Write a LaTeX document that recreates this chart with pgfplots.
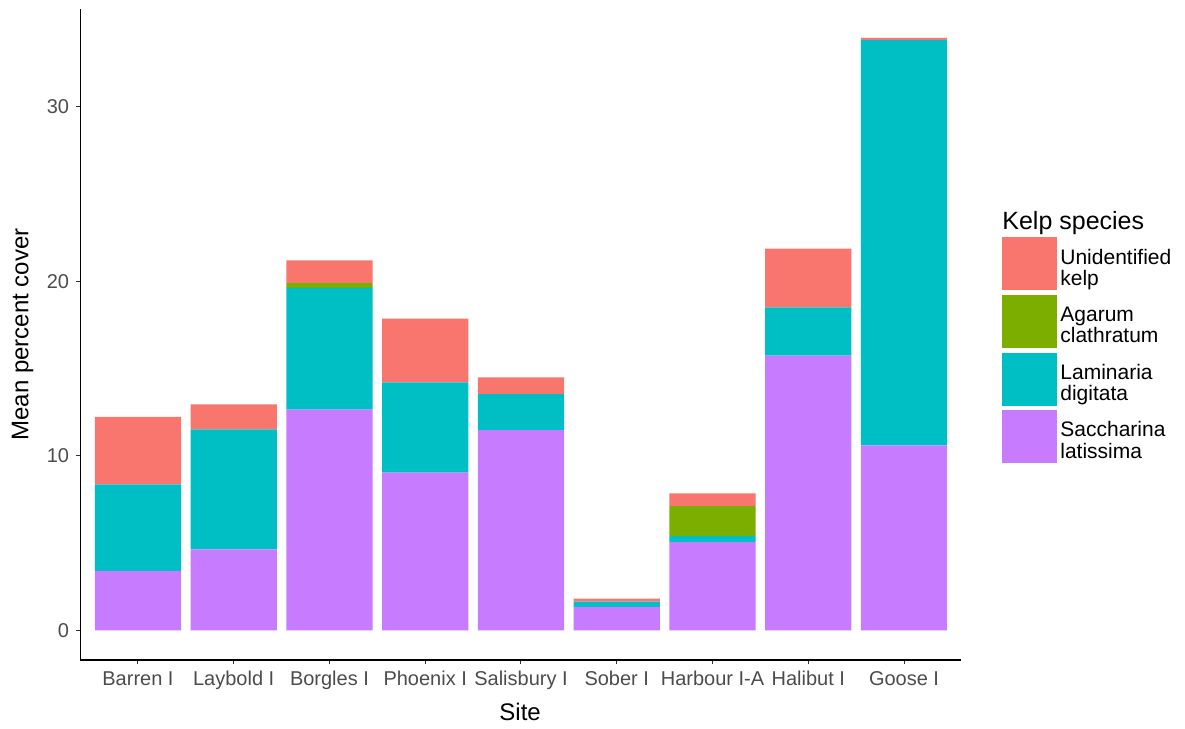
\documentclass[border=0pt]{standalone}
\usepackage{fontspec}
\setmainfont{Liberation Sans}
\usepackage{pgfplots}
\pgfplotsset{compat=1.18}
\definecolor{cU}{HTML}{F8766D}
\definecolor{cA}{HTML}{7CAE00}
\definecolor{cL}{HTML}{00BFC4}
\definecolor{cS}{HTML}{C77CFF}
\newcommand{\legtwo}[2]{\begin{tabular}{@{}l@{}}#1\\#2\end{tabular}}
\begin{document}
\begin{tikzpicture}
\begin{axis}[
  scale only axis, width=440.5pt, height=325.5pt,
  xmin=0.4, xmax=9.6, ymin=-1.7, ymax=35.6,
  ybar stacked, bar width=0.9,
  axis lines*=left,
  axis line style={black, line width=0.6pt},
  xtick={1,2,3,4,5,6,7,8,9},
  xticklabels={Barren I, Laybold I, Borgles I, Phoenix I, Salisbury I, Sober I, Harbour I-A, Halibut I, Goose I},
  ytick={0,10,20,30},
  tick align=outside, major tick length=2.2pt,
  tick style={color=black!80, line width=0.5pt},
  ticklabel style={font=\fontsize{10}{12}\selectfont, text=black!70},
  /pgf/number format/assume math mode=true,
  xlabel={Site}, ylabel={Mean percent cover},
  label style={font=\fontsize{12}{14}\selectfont},
  xlabel style={at={(axis description cs:0.499,-0.0799)}, anchor=center},
  ylabel style={at={(axis description cs:-0.0658,0.5)}, anchor=center},
  legend style={at={(axis description cs:1.046,0.6498)}, anchor=north west,
    draw=none, fill=none, inner sep=0pt, row sep=2.3pt,
    font=\fontsize{10.5}{10.5}\selectfont, cells={anchor=west},
    nodes={inner sep=1.5pt}},
  legend image code/.code={\fill[#1] (0pt,-13.25pt) rectangle (27.5pt,13.25pt);},
  reverse legend,
  clip=false,
]
\addplot[fill=cS, draw=none] coordinates {(1,3.40) (2,4.64) (3,12.65) (4,9.03) (5,11.47) (6,1.34) (7,5.06) (8,15.74) (9,10.59)};
\addlegendentry{\legtwo{Saccharina}{latissima}}
\addplot[fill=cL, draw=none] coordinates {(1,4.96) (2,6.87) (3,6.97) (4,5.17) (5,2.06) (6,0.30) (7,0.34) (8,2.77) (9,23.22)};
\addlegendentry{\legtwo{Laminaria}{digitata}}
\addplot[fill=cA, draw=none] coordinates {(1,0) (2,0) (3,0.28) (4,0) (5,0) (6,0) (7,1.72) (8,0) (9,0)};
\addlegendentry{\legtwo{Agarum}{clathratum}}
\addplot[fill=cU, draw=none] coordinates {(1,3.87) (2,1.43) (3,1.30) (4,3.66) (5,0.97) (6,0.17) (7,0.72) (8,3.36) (9,0.14)};
\addlegendentry{\legtwo{Unidentified}{kelp}}
\node[anchor=base west, inner sep=0pt, font=\fontsize{12.5}{14}\selectfont] at (axis description cs:1.046,0.662) {Kelp species};
\end{axis}
\pgfresetboundingbox
\path (-40.25pt,-34.5pt) rectangle (552.25pt,330pt);
\end{tikzpicture}
\end{document}
